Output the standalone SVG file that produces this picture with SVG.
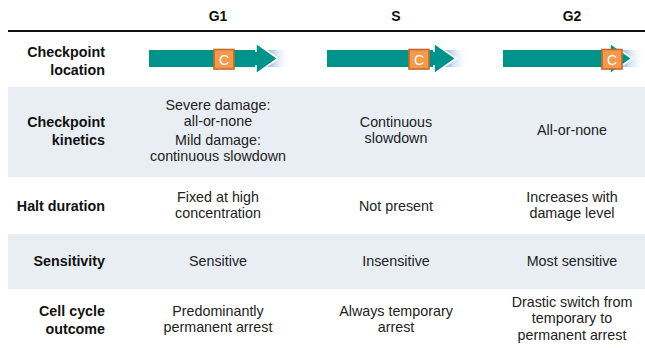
<svg xmlns="http://www.w3.org/2000/svg" width="645" height="348" viewBox="0 0 645 348">
<defs>
<linearGradient id="fade" x1="0" y1="0" x2="1" y2="0">
<stop offset="0" stop-color="#7FA8D3"/>
<stop offset="1" stop-color="#FFFFFF" stop-opacity="0"/>
</linearGradient>
<g id="arrow">
<rect x="117" y="0" width="24" height="17" fill="url(#fade)"/>
<rect x="0" y="0" width="108" height="17" fill="#00938B"/>
<polygon points="107,-7 129,8.5 107,24" fill="#00938B" stroke="#FFFFFF" stroke-width="1.6" stroke-linejoin="miter"/>
<rect x="105" y="2" width="4" height="13" fill="#00938B"/>
</g>
</defs>
<style>
.hdr{font-family:"Liberation Sans",Arial,sans-serif;font-weight:bold;font-size:14px;fill:#111;text-anchor:middle}
.lbl{font-family:"Liberation Sans",Arial,sans-serif;font-weight:bold;font-size:14.3px;fill:#111;text-anchor:end}
.txt{font-family:"Liberation Sans",Arial,sans-serif;font-size:14.3px;fill:#222;text-anchor:middle}
.band{fill:#E9EEF5}
.cbox{fill:#F39A4C;stroke:#C4692A;stroke-width:1.6}
.ctxt{font-family:"Liberation Sans",Arial,sans-serif;font-size:14px;fill:#FFFFFF;text-anchor:middle}
</style>
<rect width="645" height="348" fill="#FFFFFF"/>
<rect class="band" x="8" y="87" width="637" height="90"/>
<rect class="band" x="8" y="234" width="637" height="55"/>
<line x1="8" y1="31" x2="645" y2="31" stroke="#111" stroke-width="2"/>

<g id="header">
<text class="hdr" x="218" y="21">G1</text>
<text class="hdr" x="396" y="21">S</text>
<text class="hdr" x="572" y="21">G2</text>
</g>

<g id="labels">
<text class="lbl" x="105" y="57">Checkpoint</text>
<text class="lbl" x="105" y="75">location</text>
<text class="lbl" x="105" y="127">Checkpoint</text>
<text class="lbl" x="105" y="145">kinetics</text>
<text class="lbl" x="105" y="211">Halt duration</text>
<text class="lbl" x="105" y="266">Sensitivity</text>
<text class="lbl" x="105" y="316">Cell cycle</text>
<text class="lbl" x="105" y="334">outcome</text>
</g>

<g id="arrow-g1">
<use href="#arrow" x="149" y="50"/>
<rect class="cbox" x="214" y="49.5" width="20" height="19.5"/>
<text class="ctxt" x="224" y="64.5">C</text>
</g>
<g id="arrow-s">
<use href="#arrow" x="327" y="50"/>
<rect class="cbox" x="409" y="49.5" width="20" height="19.5"/>
<text class="ctxt" x="419" y="64.5">C</text>
</g>
<g id="arrow-g2">
<use href="#arrow" x="503" y="50"/>
<rect class="cbox" x="602" y="49.5" width="20" height="19.5"/>
<text class="ctxt" x="612" y="64.5">C</text>
</g>

<g id="kinetics">
<text class="txt" x="218" y="109.5">Severe damage:</text>
<text class="txt" x="218" y="125.5">all-or-none</text>
<text class="txt" x="218" y="144.5">Mild damage:</text>
<text class="txt" x="218" y="160.5">continuous slowdown</text>
<text class="txt" x="396" y="127">Continuous</text>
<text class="txt" x="396" y="143">slowdown</text>
<text class="txt" x="572" y="135">All-or-none</text>
</g>

<g id="halt">
<text class="txt" x="218" y="202">Fixed at high</text>
<text class="txt" x="218" y="218">concentration</text>
<text class="txt" x="396" y="211">Not present</text>
<text class="txt" x="572" y="202">Increases with</text>
<text class="txt" x="572" y="218">damage level</text>
</g>

<g id="sensitivity">
<text class="txt" x="218" y="266">Sensitive</text>
<text class="txt" x="396" y="266">Insensitive</text>
<text class="txt" x="572" y="266">Most sensitive</text>
</g>

<g id="outcome">
<text class="txt" x="218" y="316">Predominantly</text>
<text class="txt" x="218" y="332">permanent arrest</text>
<text class="txt" x="396" y="316">Always temporary</text>
<text class="txt" x="396" y="332">arrest</text>
<text class="txt" x="572" y="307">Drastic switch from</text>
<text class="txt" x="572" y="323">temporary to</text>
<text class="txt" x="572" y="339.5">permanent arrest</text>
</g>
</svg>
